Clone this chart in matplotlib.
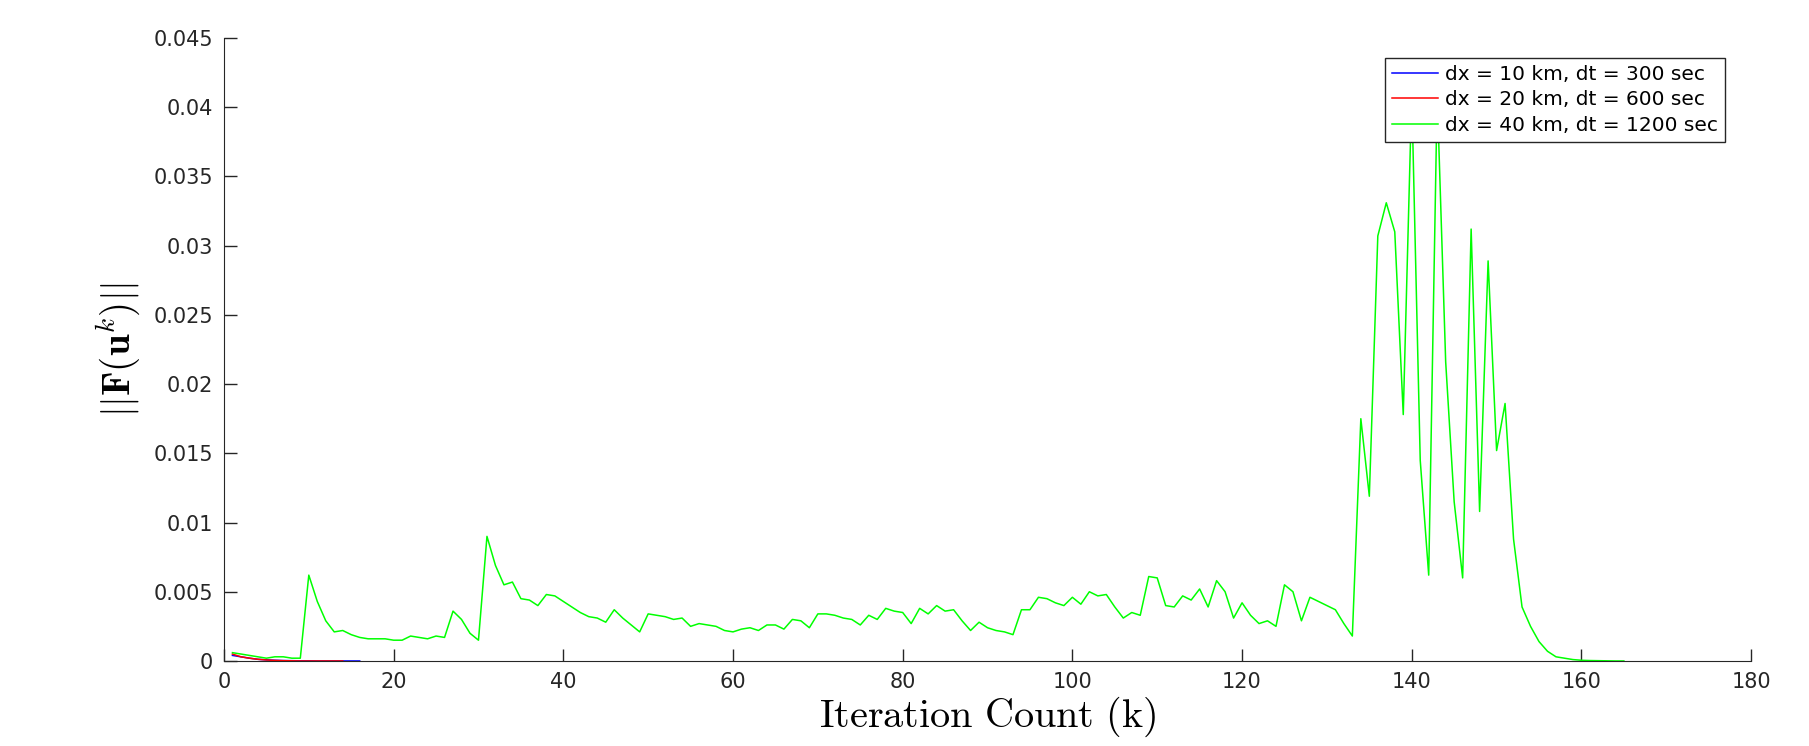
import matplotlib
matplotlib.use('Agg')
import matplotlib.pyplot as plt
import numpy as np

plt.rcParams['mathtext.fontset'] = 'cm'

# ||F(u^k)|| per iteration
k_10 = np.arange(1, 17)
res_10 = [0.0004, 0.0003, 0.0002, 0.00012, 0.00008, 0.00005, 0.00003, 0.00002,
          0.00001, 0.00001, 0.0, 0.0, 0.0, 0.0, 0.0, 0.0]

k_20 = np.arange(1, 15)
res_20 = [0.0005, 0.0003, 0.0002, 0.00012, 0.00007, 0.00004, 0.00002, 0.00001,
          0.0, 0.0, 0.0, 0.0, 0.0, 0.0]

k_40 = np.arange(1, 166)
res_40 = [
    0.0006, 0.0005, 0.0004, 0.0003, 0.0002, 0.0003, 0.0003, 0.0002, 0.0002, 0.0062,   # 1-10
    0.0043, 0.0029, 0.0021, 0.0022, 0.0019, 0.0017, 0.0016, 0.0016, 0.0016, 0.0015,  # 11-20
    0.0015, 0.0018, 0.0017, 0.0016, 0.0018, 0.0017, 0.0036, 0.0030, 0.0020, 0.0015,  # 21-30
    0.0090, 0.0069, 0.0055, 0.0057, 0.0045, 0.0044, 0.0040, 0.0048, 0.0047, 0.0043,  # 31-40
    0.0039, 0.0035, 0.0032, 0.0031, 0.0028, 0.0037, 0.0031, 0.0026, 0.0021, 0.0034,  # 41-50
    0.0033, 0.0032, 0.0030, 0.0031, 0.0025, 0.0027, 0.0026, 0.0025, 0.0022, 0.0021,  # 51-60
    0.0023, 0.0024, 0.0022, 0.0026, 0.0026, 0.0023, 0.0030, 0.0029, 0.0024, 0.0034,  # 61-70
    0.0034, 0.0033, 0.0031, 0.0030, 0.0026, 0.0033, 0.0030, 0.0038, 0.0036, 0.0035,  # 71-80
    0.0027, 0.0038, 0.0034, 0.0040, 0.0036, 0.0037, 0.0029, 0.0022, 0.0028, 0.0024,  # 81-90
    0.0022, 0.0021, 0.0019, 0.0037, 0.0037, 0.0046, 0.0045, 0.0042, 0.0040, 0.0046,  # 91-100
    0.0041, 0.0050, 0.0047, 0.0048, 0.0039, 0.0031, 0.0035, 0.0033, 0.0061, 0.0060,  # 101-110
    0.0040, 0.0039, 0.0047, 0.0044, 0.0052, 0.0039, 0.0058, 0.0050, 0.0031, 0.0042,  # 111-120
    0.0033, 0.0027, 0.0029, 0.0025, 0.0055, 0.0050, 0.0029, 0.0046, 0.0043, 0.0040,  # 121-130
    0.0037, 0.0027, 0.0018, 0.0175, 0.0119, 0.0307, 0.0331, 0.0310, 0.0178, 0.0410,  # 131-140
    0.0145, 0.0062, 0.0410, 0.0216, 0.0115, 0.0060, 0.0312, 0.0108, 0.0289, 0.0152,  # 141-150
    0.0186, 0.0088, 0.0039, 0.0025, 0.0014, 0.0007, 0.0003, 0.0002, 0.0001, 0.00005, # 151-160
    0.00003, 0.00002, 0.00001, 0.0, 0.0,                                                # 161-165
]

labels = ['dx = 10 km, dt = 300 sec', 'dx = 20 km, dt = 600 sec',
          'dx = 40 km, dt = 1200 sec']

fig = plt.figure(figsize=(18.09, 7.46), dpi=100)
ax = fig.add_axes([0.1238, 0.114, 0.8442, 0.835])

ax.plot(k_10, res_10, color=(0, 0, 1), lw=1.1, label=labels[0])
ax.plot(k_20, res_20, color=(1, 0, 0), lw=1.1, label=labels[1])
ax.plot(k_40, res_40, color=(0, 1, 0), lw=1.1, label=labels[2])

ax.set_xlim(0, 180)
ax.set_ylim(0, 0.045)
ax.set_xticks(np.arange(0, 181, 20))
ax.set_yticks(np.arange(0, 0.0451, 0.005))
ax.set_yticklabels(['0', '0.005', '0.01', '0.015', '0.02', '0.025', '0.03',
                    '0.035', '0.04', '0.045'])
ax.tick_params(direction='in', length=9, width=1, colors='#262626',
               labelsize=15, pad=8)
for s in ['top', 'right']:
    ax.spines[s].set_visible(False)
for s in ['left', 'bottom']:
    ax.spines[s].set_color('#262626')

ax.set_xlabel(r'$\mathrm{Iteration\ Count\ (k)}$', fontsize=29, labelpad=2)
ax.set_ylabel(r'$||\mathbf{F}(\mathbf{u}^k)||$', fontsize=28, labelpad=8)

leg = ax.legend(loc='upper right', bbox_to_anchor=(0.983, 0.968), fontsize=14.5,
                fancybox=False, edgecolor='#262626', framealpha=1,
                borderpad=0.35, labelspacing=0.32, handlelength=2.3,
                handletextpad=0.35, borderaxespad=0)
leg.get_frame().set_linewidth(1.0)

fig.savefig('out.png', dpi=100)
